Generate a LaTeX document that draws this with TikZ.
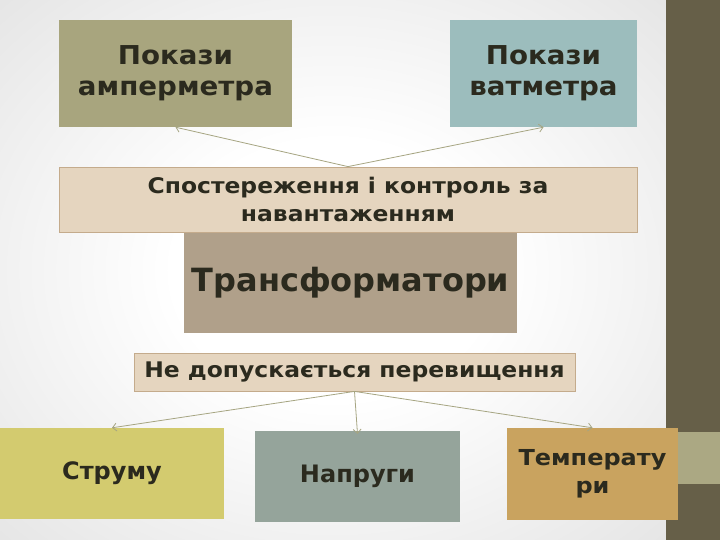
\documentclass[tikz,border=0pt]{standalone}
\usepackage{fontspec}
\setmainfont{DejaVu Sans}
\newfontfamily\topfont[FakeStretch=1.065]{DejaVu Sans}
\newfontfamily\midfont[FakeStretch=1.09]{DejaVu Sans}
\usetikzlibrary{arrows.meta}

\definecolor{txt}{HTML}{2B2A1E}
\definecolor{bggray}{HTML}{D6D6D6}
\definecolor{barc}{HTML}{665F48}
\definecolor{barlight}{HTML}{ABA883}
\definecolor{ampc}{HTML}{A8A57E}
\definecolor{wattc}{HTML}{9CBDBD}
\definecolor{obsc}{HTML}{E5D5BF}
\definecolor{obsline}{HTML}{C4AB8C}
\definecolor{transc}{HTML}{B0A08A}
\definecolor{strc}{HTML}{D3CB6F}
\definecolor{naprc}{HTML}{95A49B}
\definecolor{tempc}{HTML}{C9A35F}
\definecolor{arrc}{HTML}{A6A582}

\pgfdeclareradialshading{bgshade}{\pgfpoint{0bp}{0bp}}{color(0bp)=(white); color(12bp)=(white); color(50bp)=(bggray)}

\begin{document}
\begin{tikzpicture}[x=1pt, y=-1pt,
  box/.style={inner sep=0pt, align=center, text=txt},
  big/.style={font=\topfont\fontsize{26}{31}\selectfont\bfseries},
  mid/.style={font=\midfont\fontsize{21.5}{28.5}\selectfont\bfseries},
  arr/.style={arrc, line width=0.8pt, -{Straight Barb[length=4pt, width=8pt]}}]
\useasboundingbox (0,0) rectangle (720,540);
% background and side bar
\shade[shading=bgshade] (0,0) rectangle (666,540);
\fill[barc] (666,0) rectangle (720,540);
\fill[barlight] (677,432) rectangle (720,484);

% top row
\node[box, big, fill=ampc, minimum width=233, minimum height=107] (amp) at (175.5,73.5) {Покази\\амперметра};
\node[box, big, fill=wattc, minimum width=187, minimum height=107] (watt) at (543.5,73.5) {Покази\\ватметра};

% middle
\node[box, fill=transc, minimum width=333, minimum height=101,
  font=\fontsize{32}{38}\selectfont\bfseries] (trans) at (350.5,282.5) {Трансформатори};
\node[box, mid, fill=obsc, draw=obsline, line width=0.8pt, minimum width=578, minimum height=65] (obs) at (348,199.5) {Спостереження і контроль за\\навантаженням};
\node[box, mid, fill=obsc, draw=obsline, line width=0.8pt, minimum width=441, minimum height=38] (ne) at (354.5,372) {Не допускається перевищення};

% bottom row
\node[box, fill=strc, minimum width=224, minimum height=91,
  font=\fontsize{24}{30}\selectfont\bfseries] (str) at (112,473.5) {Струму};
\node[box, fill=naprc, minimum width=205, minimum height=91,
  font=\fontsize{24}{30}\selectfont\bfseries] (napr) at (357.5,476.5) {Напруги};
\node[box, fill=tempc, minimum width=171, minimum height=92,
  font=\midfont\fontsize{22}{28}\selectfont\bfseries] (temp) at (592.5,474) {Температу\\ри};

\begin{scope}[arr]
\draw (obs.north) -- (amp.south);
\draw (obs.north) -- (watt.south);
\draw (ne.south) -- (str.north);
\draw (ne.south) -- ([yshift=-3pt]napr.north);
\draw (ne.south) -- (temp.north);
\end{scope}
\end{tikzpicture}
\end{document}
